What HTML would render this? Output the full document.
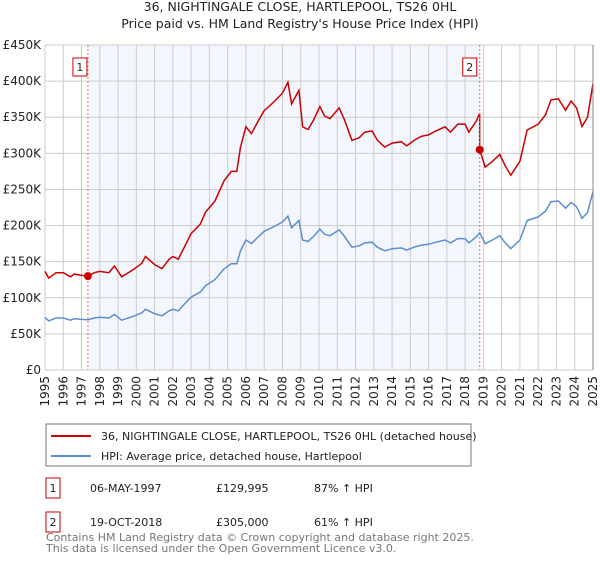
<!DOCTYPE html>
<html><head><meta charset="utf-8">
<style>
body{margin:0;background:#fff;font-family:"Liberation Sans","DejaVu Sans",sans-serif;}
svg text{font-family:"DejaVu Sans","Liberation Sans",sans-serif;}
</style></head>
<body>
<svg id="chart" width="600" height="560" viewBox="0 0 600 560" xmlns="http://www.w3.org/2000/svg">
<text x="300" y="11" text-anchor="middle" font-size="12.5" fill="#222">36, NIGHTINGALE CLOSE, HARTLEPOOL, TS26 0HL</text>
<text x="300" y="28" text-anchor="middle" font-size="12.5" fill="#222">Price paid vs. HM Land Registry's House Price Index (HPI)</text>
<g id="plot"></g>
<g>
<rect x="46" y="424" width="425" height="42" fill="#fff" stroke="#777"/>
<line x1="51" y1="436" x2="91" y2="436" stroke="#cc0000" stroke-width="2"/>
<text x="101" y="440" font-size="11" fill="#222">36, NIGHTINGALE CLOSE, HARTLEPOOL, TS26 0HL (detached house)</text>
<line x1="51" y1="456" x2="91" y2="456" stroke="#5b8fd0" stroke-width="2"/>
<text x="101" y="460" font-size="11" fill="#222">HPI: Average price, detached house, Hartlepool</text>
</g>
<g font-size="11" fill="#222">
<rect x="46" y="478" width="14" height="20" fill="#fff" stroke="#cc0000"/>
<text x="53" y="492" text-anchor="middle">1</text>
<text x="90" y="492">06-MAY-1997</text>
<text x="216" y="492">£129,995</text>
<text x="314" y="492">87% ↑ HPI</text>
</g>
<g font-size="11" fill="#222">
<rect x="46" y="512" width="14" height="20" fill="#fff" stroke="#cc0000"/>
<text x="53" y="526" text-anchor="middle">2</text>
<text x="90" y="526">19-OCT-2018</text>
<text x="216" y="526">£305,000</text>
<text x="314" y="526">61% ↑ HPI</text>
</g>
<text x="46" y="541" font-size="11" fill="#777">Contains HM Land Registry data © Crown copyright and database right 2025.</text>
<text x="46" y="552" font-size="11" fill="#777">This data is licensed under the Open Government Licence v3.0.</text>
</svg>
<script>
const hpiYears=[1995.0,1995.2,1995.6,1996.0,1996.4,1996.6,1997.0,1997.35,1997.7,1998.0,1998.5,1998.8,1999.2,1999.8,2000.3,2000.5,2001.0,2001.4,2001.8,2002.0,2002.3,2002.7,2003.0,2003.5,2003.8,2004.3,2004.8,2005.2,2005.5,2005.7,2006.0,2006.3,2006.7,2007.0,2007.5,2008.0,2008.3,2008.5,2008.9,2009.1,2009.4,2009.7,2010.05,2010.3,2010.6,2011.1,2011.4,2011.8,2012.2,2012.5,2012.9,2013.2,2013.6,2014.0,2014.5,2014.8,2015.2,2015.6,2016.0,2016.4,2016.9,2017.2,2017.6,2018.0,2018.2,2018.6,2018.8,2019.1,2019.5,2019.9,2020.2,2020.5,2021.0,2021.4,2022.0,2022.4,2022.7,2023.1,2023.5,2023.8,2024.1,2024.4,2024.7,2025.0];
const hpiValues=[73,68,72,72,69,71,70,69.5,72,73,72,77,69,74,79,84,78,75,82,84,82,93,101,108,117,125,140,147,147,165,180,175,185,192,198,205,213,197,207,180,178,185,195,188,186,194,185,170,172,176,177,170,165,168,169,166,170,173,174,177,180,176,182,182,176,184,190,175,180,186,176,168,180,207,212,220,233,234,224,232,226,210,218,247];
const saleYears=[1997.35,2018.8];
const salePrices=[129.995,305];
const yTicks=[0,50,100,150,200,250,300,350,400,450];
const yTickLabels=["£0","£50K","£100K","£150K","£200K","£250K","£300K","£350K","£400K","£450K"];
const xTicks=[1995,1996,1997,1998,1999,2000,2001,2002,2003,2004,2005,2006,2007,2008,2009,2010,2011,2012,2013,2014,2015,2016,2017,2018,2019,2020,2021,2022,2023,2024,2025];

const NS="http://www.w3.org/2000/svg";
const X0=45,X1=593,Y0=370,Y1=45;
const xs=y=>X0+(y-1995)/30*(X1-X0);
const ys=v=>Y0-v/450*(Y0-Y1);
const plot=document.getElementById('plot');
function mk(tag,attrs){const e=document.createElementNS(NS,tag);for(const k in attrs)e.setAttribute(k,attrs[k]);plot.appendChild(e);return e;}
function hpiAt(t){for(let i=0;i<hpiYears.length-1;i++){if(t>=hpiYears[i]&&t<=hpiYears[i+1]){const f=(t-hpiYears[i])/(hpiYears[i+1]-hpiYears[i]);return hpiValues[i]+f*(hpiValues[i+1]-hpiValues[i]);}}return hpiValues[hpiValues.length-1];}

let bg=mk('rect',{x:X0,y:Y1,width:X1-X0,height:Y0-Y1,fill:'#fff'});


let sh=mk('rect',{x:xs(saleYears[0]),y:Y1,width:xs(saleYears[1])-xs(saleYears[0]),height:Y0-Y1,fill:'#f3f6fd'});



yTicks.forEach((v,i)=>{
 let l=mk('line',{x1:X0,x2:X1,y1:ys(v),y2:ys(v),stroke:'#cccccc','stroke-width':1});
 
 
 let t=mk('text',{x:X0-4,y:ys(v)+4,'text-anchor':'end','font-size':12,fill:'#222'});
 t.textContent=yTickLabels[i];
 
 
});
xTicks.forEach(yr=>{
 let l=mk('line',{x1:xs(yr),x2:xs(yr),y1:Y1,y2:Y0,stroke:'#cccccc','stroke-width':1});
 
 
 let t=mk('text',{x:0,y:0,'text-anchor':'end','font-size':12,fill:'#222',transform:`translate(${xs(yr)+4},${Y0+6}) rotate(-90)`});
 t.textContent=String(yr);
 
 
});

let hp=hpiYears.map((y,i)=>`${xs(y).toFixed(1)},${ys(hpiValues[i]).toFixed(1)}`).join(' ');
let hl=mk('polyline',{points:hp,fill:'none',stroke:'#5b8fd0','stroke-width':1.5});



const r0=salePrices[0]/hpiAt(saleYears[0]), r1=salePrices[1]/hpiAt(saleYears[1]);
let pts=[];
hpiYears.forEach((y,i)=>{ if(y<saleYears[1]) pts.push([y,hpiValues[i]*r0]); });
pts.push([saleYears[1],hpiAt(saleYears[1])*r0]);
pts.push([saleYears[1],salePrices[1]]);
hpiYears.forEach((y,i)=>{ if(y>saleYears[1]) pts.push([y,hpiValues[i]*r1]); });
let pl=mk('polyline',{points:pts.map(p=>`${xs(p[0]).toFixed(1)},${ys(p[1]).toFixed(1)}`).join(' '),fill:'none',stroke:'#cc0000','stroke-width':1.5});



saleYears.forEach((y,i)=>{
 let v=mk('line',{x1:xs(y),x2:xs(y),y1:Y1,y2:Y0,stroke:'#ff6666','stroke-width':1,'stroke-dasharray':'2,2'});
 
 
 let c=mk('circle',{cx:xs(y),cy:ys(salePrices[i]),r:4,fill:'#cc0000'});
 
 
 let b=mk('rect',{x:xs(y)-15+(i?-2:0),y:58,width:14,height:18,fill:'#fff',stroke:'#cc0000'});
 
 
 let t=mk('text',{x:xs(y)-8+(i?-2:0),y:71,'text-anchor':'middle','font-size':11,fill:'#222'});
 t.textContent=String(i+1);
 
 
});
let ax=mk('line',{x1:X1,x2:X1,y1:Y1,y2:Y0,stroke:'#888','stroke-width':1});


</script>
</body></html>
